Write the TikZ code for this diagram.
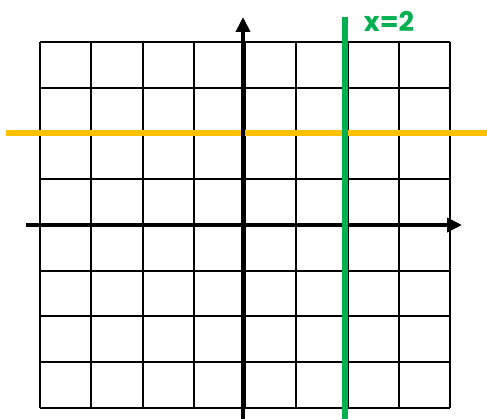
\documentclass[tikz,border=0pt]{standalone}
\usepackage{fontspec}
\newfontfamily\labelfont{Poppins}
\usetikzlibrary{arrows.meta}
\definecolor{linegreen}{RGB}{0,176,80}
\definecolor{lineorange}{RGB}{255,192,0}
\tikzset{
  gridline/.style={line width=2pt, black},
  axisline/.style={line width=4.5pt, black, -{Triangle[length=15pt,width=14pt]}},
  greenline/.style={line width=5.5pt, linegreen},
  orangeline/.style={line width=6pt, lineorange},
  eqlabel/.style={text=linegreen, font=\labelfont\bfseries\fontsize{27}{30}\selectfont, inner sep=0pt}
}
\begin{document}
\begin{tikzpicture}[x=1pt,y=-1pt]
\useasboundingbox (0,0) rectangle (487,419);
% grid
\foreach \i in {0,...,8} {
  \draw[gridline] ({40+\i*51.25},42) -- ({40+\i*51.25},408);
  \draw[gridline] (40,{42+\i*45.75}) -- (450,{42+\i*45.75});
}
% coordinates
\coordinate (oL) at (6,133);
\coordinate (oR) at (487,133);
\coordinate (xL) at (26,225);
\coordinate (xR) at (462,225);
\coordinate (yB) at (243,419);
\coordinate (yT) at (243,17);
\coordinate (gB) at (345,419);
\coordinate (gT) at (345,17);
% lines
\draw[orangeline] (oL) -- (oR);
\draw[axisline] (xL) -- (xR);
\draw[axisline] (yB) -- (yT);
\draw[greenline] (gB) -- (gT);
\node[eqlabel, anchor=base] (lab) at (389,32) {x=2};
\end{tikzpicture}
\end{document}
